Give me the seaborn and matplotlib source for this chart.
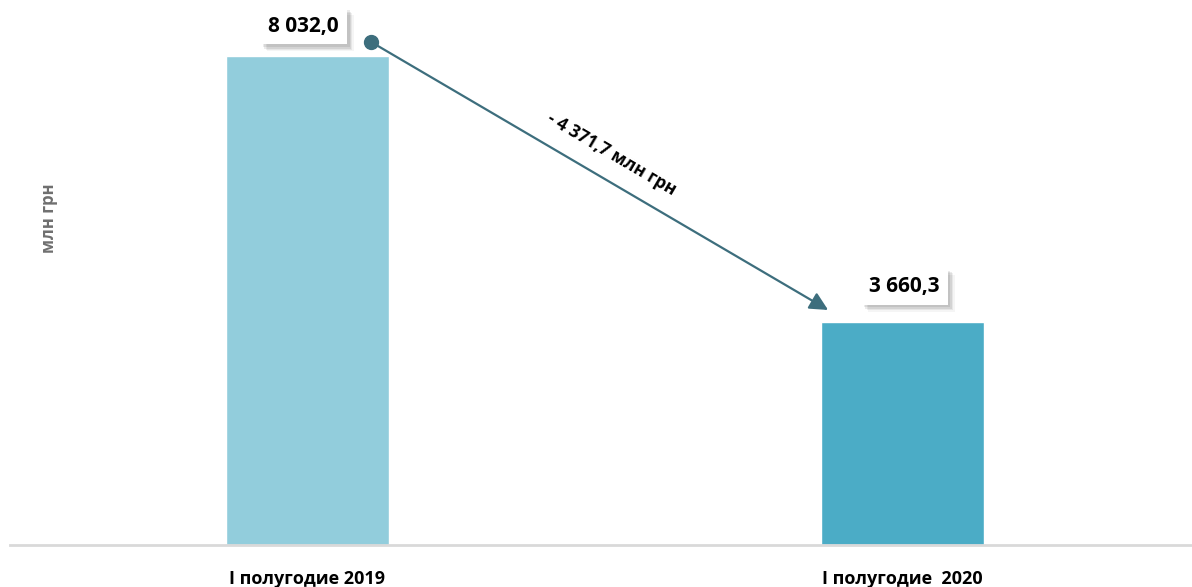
import pandas as pd
import matplotlib
matplotlib.use("Agg")
import matplotlib.pyplot as plt
import matplotlib.patheffects as pe
import seaborn as sns

# Chart data
categories = ['I полугодие 2019', 'I полугодие  2020']
values = [8032.0, 3660.3]
value_labels = ['8 032,0', '3 660,3']
change_label = '- 4 371,7 млн грн'
y_label = 'млн грн'
bar_colors = ['#92cddc', '#4bacc6']
arrow_color = '#3d6e7d'

df = pd.DataFrame({'cat': categories, 'val': values})

sns.set_style('white')
plt.rcParams['font.family'] = ['Open Sans', 'DejaVu Sans']

fig = plt.figure(figsize=(11.92, 5.87), dpi=100)
ax = fig.add_axes([10 / 1192, 42 / 587, 1190 / 1192, 545 / 587])

sns.barplot(data=df, x='cat', y='val', hue='cat', palette=bar_colors,
            width=0.274, legend=False, ax=ax, saturation=1)

ax.set_xlim(-0.5, 1.5)
ax.set_ylim(0, 8952)
ax.set_xlabel('')
ax.set_ylabel('')
ax.set_yticks([])
for s in ['top', 'right', 'left']:
    ax.spines[s].set_visible(False)
ax.spines['bottom'].set_color('#d9d9d9')
ax.spines['bottom'].set_linewidth(2)

ax.set_xticks([0, 1])
ax.set_xticklabels(categories, fontsize=13, fontweight='bold', color='black')
ax.tick_params(axis='x', which='major', length=0, pad=18)
ax.set_xticks([-0.5, 0.5], minor=True)
ax.tick_params(axis='x', which='minor', length=6, width=1.5, color='#d9d9d9')

# value labels in white boxes with soft shadow
shadow = [pe.SimplePatchShadow(offset=(d, -d), shadow_rgbFace='#000000', alpha=a)
          for d, a in [(5, 0.04), (4, 0.06), (3, 0.08), (2, 0.08)]] + [pe.Normal()]
offsets = [(-4, 30), (2, 36)]
for i, (v, lab) in enumerate(zip(values, value_labels)):
    t = ax.annotate(lab, xy=(i, v), xytext=offsets[i], textcoords='offset pixels',
                    ha='center', va='center', fontsize=15, fontweight='bold',
                    color='black',
                    bbox=dict(boxstyle='square,pad=0.38', fc='white', ec='none'))
    t.get_bbox_patch().set_path_effects(shadow)

# change arrow between the bars
start = (0 + 0.107, values[0] + 230)
end = (1 - 0.125, values[1] + 200)
ax.annotate('', xy=end, xytext=start,
            arrowprops=dict(arrowstyle='-|>,head_length=1.1,head_width=0.55',
                            color=arrow_color, lw=1.6, shrinkA=0, shrinkB=0))
ax.plot([start[0]], [start[1]], 'o', color=arrow_color, markersize=10, clip_on=False)

mid = ((start[0] + end[0]) / 2, (start[1] + end[1]) / 2)
ax.annotate(change_label, xy=mid, xytext=(12, 22), textcoords='offset pixels',
            ha='center', va='center', rotation=-30.4, rotation_mode='anchor',
            fontsize=12.5, fontweight='bold', color='black')

fig.text(49 / 1192, 1 - 218 / 587, y_label, rotation=90, ha='center', va='center',
         fontsize=12, fontweight='bold', color='#6f6f6f')

fig.savefig('out.png', dpi=100)
